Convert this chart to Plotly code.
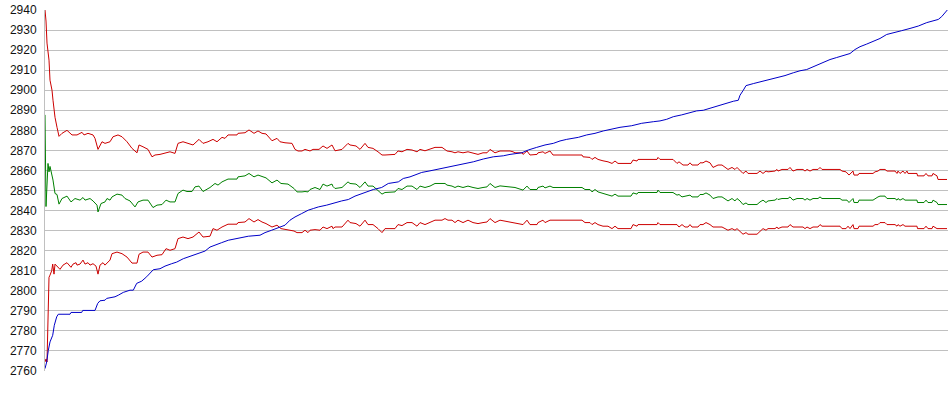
import plotly.graph_objects as go

# sample index (0..903) and values for each series
upper_x = [0,1,2,3,3.5,4,5,7,8,9,10,12,14,17,22,27,32,37,39,43,48,50,53,57,60,65,68,73,77,82,87,92,94,98,103,107,110,115,120,125,130,133,138,143,148,154,158,163,168,172,177,180,183,192,193,200,204,209,213,217,221,227,232,235,240,247,250,253,257,260,265,268,274,278,282,287,288,290,297,303,305,311,315,320,323,328,333,337,340,350,353,357,362,367,372,375,380,385,390,397,402,407,410,413,418,423,428,433,438,442,445,450,455,465,468,470,477,478,482,485,492,493,498,500,505,508,537,538,545,547,550,553,558,563,567,570,573,586,588,592,593,612,613,615,628,632,634,638,643,645,647,653,655,658,661,665,668,673,677,680,683,687,690,692,695,698,701,703,712,715,718,721,723,730,732,733,737,743,745,748,752,758,760,762,765,768,773,775,777,795,797,801,804,808,809,813,814,828,830,833,835,840,842,850,852,853,855,858,860,862,863,872,872.5,879,881,883,887,888,892,893,902]
upper_y = [2940,2934.5,2923.5,2920,2918,2915,2905,2900,2895,2890,2886.5,2881.5,2877,2878.5,2880,2877.7,2877.7,2879,2877.7,2878.5,2877.7,2876,2870.5,2874.3,2873.5,2874.3,2876.8,2877.7,2876.8,2874.3,2871,2868.8,2872.7,2871.8,2870.5,2866.8,2867.7,2868,2868.8,2869.3,2868.5,2873.5,2874.3,2873.5,2872.7,2875.5,2873.5,2874.3,2875.5,2874.3,2876.5,2876,2877.7,2877.7,2878.5,2878.8,2880.2,2878.5,2879.7,2878.5,2878.2,2874.8,2876,2874.3,2873.8,2873.5,2870.5,2869.7,2869.7,2870.5,2869.7,2870.5,2870.5,2872.2,2871,2872.7,2871.8,2869.8,2870.5,2873.5,2872.7,2872.2,2870.5,2873.5,2871.5,2871,2869.3,2867.7,2867.7,2868,2869.7,2869.3,2870.5,2870.2,2869.3,2870.5,2869.8,2870.5,2871.5,2871.5,2869.7,2869.3,2868.8,2869.3,2868.8,2869.3,2868.5,2868,2868.8,2868.8,2870.5,2868.8,2869.7,2869.7,2869.3,2868.8,2868.8,2868,2869.7,2867.7,2868,2868.8,2869.3,2868.5,2869.7,2867.7,2867.7,2866.8,2866.5,2865.5,2866.5,2865.5,2864.8,2864.3,2863.5,2864.7,2863.5,2863.5,2865.2,2864.7,2865.5,2865.5,2866.5,2865.5,2865.5,2863.5,2864.3,2862.7,2862.7,2863.8,2862.7,2862.7,2863.8,2863.8,2864.7,2863.8,2861.5,2862.7,2862.7,2861.5,2860.5,2861.5,2860.5,2861.5,2860.2,2858.5,2859.7,2858.5,2858.5,2859.7,2858.5,2859.7,2859.3,2859.7,2860.5,2859.7,2860.5,2860.5,2861.5,2859.7,2860.5,2860.5,2859.7,2860.5,2859.7,2860.5,2860.5,2861.5,2860.5,2860.5,2859.7,2859.3,2857.7,2859.7,2857.7,2857.7,2858.5,2858.5,2859.3,2859.7,2860.5,2860.5,2859.7,2859.7,2858.5,2859.7,2858.5,2859.7,2858.5,2859.7,2858.5,2858.5,2857.3,2857.3,2858.5,2857.3,2857.3,2858.5,2857.3,2855.5,2855.5]

green_x = [0,1,3,4,5,7,8,10,12,14,17,22,26,30,35,38,40,45,48,52,53,56,60,62,65,67,72,77,80,85,90,93,98,103,108,112,117,121,125,130,133,138,142,147,150,154,158,165,170,173,177,183,192,193,200,204,209,213,217,221,227,232,236,243,249,252,257,260,263,265,270,275,278,282,287,288,290,297,303,305,311,315,320,323,328,333,337,340,350,353,357,362,367,372,375,380,385,390,400,402,407,410,413,418,423,428,433,438,442,445,450,455,470,478,482,485,492,493,498,500,505,508,537,540,545,547,550,553,558,563,567,570,573,586,588,592,593,612,613,615,628,632,634,637,643,645,647,653,655,658,661,665,668,673,677,680,683,687,690,692,695,698,701,703,712,715,718,721,723,730,732,733,737,743,745,748,752,758,760,762,765,768,773,775,777,795,797,802,804,808,809,813,814,828,830,833,835,840,842,850,852,853,855,858,860,862,872,872.5,879,881,883,887,888,892,893,902]
green_y = [2887.7,2842,2863.5,2859.3,2862,2857.7,2855.2,2848.5,2848,2843.2,2846,2847.2,2844.3,2846,2845.2,2846.5,2845.2,2846,2844.8,2842.7,2839.3,2843.5,2844.3,2846,2845.2,2846.8,2848.2,2847.7,2846,2844.8,2841.8,2844.3,2845.2,2845.2,2841.5,2842.7,2843,2845.2,2844.3,2844.3,2848.5,2850.2,2849.5,2849.5,2851.8,2852.2,2849.5,2851.5,2853.5,2852.7,2854.3,2855.7,2855.7,2856.8,2857.3,2858.5,2856.8,2857.7,2856.8,2856.3,2853.8,2855.2,2853.5,2853.2,2851,2849.3,2849.3,2849.5,2849.3,2850.5,2851.5,2850.5,2853.2,2852.2,2853.2,2852,2851,2851.5,2854.3,2853.5,2853.2,2851.5,2854.3,2852.2,2852.2,2850.2,2848.2,2849,2849.3,2851,2850.5,2852.2,2852.2,2850.5,2852.2,2851.5,2852.2,2853.5,2853.5,2852.7,2852.2,2851.5,2852.2,2851.5,2852.2,2851.5,2851,2851.5,2851.8,2853.5,2851.5,2852.3,2851.5,2850.2,2852.2,2850.5,2850.5,2851.5,2852.2,2851.3,2852.2,2851.5,2851.5,2850.5,2850.5,2849.3,2850.5,2849.3,2848.5,2848,2847.2,2848.2,2847.2,2847.2,2848.8,2848.2,2849,2849,2850.2,2849,2849,2847.7,2848,2846.8,2847.2,2847.7,2846.8,2846.8,2848,2848,2848.8,2847.7,2846,2846.8,2846.8,2846,2844.8,2846,2844.8,2846,2844.8,2843,2843.8,2843,2843,2844.3,2845.2,2844,2844.8,2845.2,2846,2845.5,2846,2846,2846.8,2845.2,2846,2846,2845.2,2846,2845.2,2846,2846,2846.8,2846,2846,2845.2,2845.2,2844,2846,2844,2844,2845.2,2845.2,2846,2846.8,2847.2,2847.2,2846,2846,2845.2,2846,2845.2,2846,2845.2,2845.2,2845.2,2844,2844,2845.2,2844,2844,2845.2,2844,2843,2843]

lower_x = [0,1,2,2.7,3,4,5,6.7,7.7,9,10,13,15,18,22,26,28,31,32,35,38,40,43,45,48,51,53,55,58,60,65,67,72,77,82,87,92,94,98,103,107,112,117,121,125,130,133,138,143,148,154,158,165,168,172,177,183,192,193,200,204,209,213,217,221,227,232,236,243,249,252,257,260,263,265,270,275,278,282,287,288,290,297,303,305,311,315,320,323,328,333,337,340,350,353,357,362,367,372,375,380,385,390,397,400,403,407,410,413,418,423,428,433,438,442,445,450,455,470,478,482,485,492,493,498,500,505,537,540,545,547,550,553,558,563,567,570,573,586,588,592,593,612,613,615,632,634,637,640,643,645,647,653,655,658,661,665,668,673,677,680,683,687,690,692,695,698,701,703,712,715,718,721,723,730,732,733,737,743,745,748,752,758,760,762,765,768,773,775,777,795,797,801,803,805,808,809,813,814,828,830,833,835,840,842,850,852,853,855,858,860,862,872,872.5,879,881,883,887,888,892,902]
lower_y = [2764.5,2766,2764.5,2787,2787,2806.7,2807.8,2810,2813.3,2808.3,2813.3,2812,2810.7,2812.8,2814,2811.7,2813.3,2814,2812.8,2813.3,2815.3,2813.3,2814,2812.8,2813.5,2812.3,2808.3,2812.8,2814,2812.8,2815.3,2818.5,2819.3,2818.5,2816.8,2813.8,2813.8,2818.2,2819.3,2819.3,2816.8,2817.7,2818,2821,2820.2,2821,2826,2826.8,2826,2826.8,2829.3,2826.8,2827.2,2831,2830.2,2831.8,2833.2,2833.2,2834,2834.3,2836,2834.3,2835.5,2834.3,2833.5,2831.8,2832.7,2831,2830.5,2829.8,2829,2829,2830.2,2829,2830.2,2830.5,2830.2,2831.8,2831,2832.2,2831,2831.8,2831.8,2835.2,2834,2833.5,2832.2,2835.2,2833,2833,2831,2829,2831,2831,2833,2832.5,2834,2834,2832.2,2834,2833,2834,2835.2,2835.2,2836,2835.2,2835.2,2834,2835.2,2834,2835.2,2834,2833.5,2834,2834.3,2836,2834,2835.2,2834,2833,2835.2,2833,2833,2834,2835.2,2834,2835.2,2835.2,2834,2834,2833,2834,2833,2832.2,2832.2,2831,2832.2,2831,2831,2833,2832.2,2833,2833,2834,2833,2833,2831.8,2833,2831.8,2831.8,2833,2831.8,2831.8,2833,2833,2834,2833,2831.8,2831.8,2831.8,2831,2830.2,2831,2830.2,2831,2829.8,2828.2,2829,2828.2,2828.2,2829.8,2831,2830.2,2831,2831,2831.8,2831,2831.8,2831.8,2833,2831.8,2831.8,2831.8,2831,2831.8,2831,2831.8,2831.8,2833,2832.2,2832.2,2831,2831,2832.2,2831,2833,2831,2831,2832.2,2832.2,2833,2833,2834,2834,2833,2833,2832.2,2833,2832.2,2833,2832.2,2832.2,2832.2,2831,2831,2832.2,2831,2831,2832.2,2831,2831]

blue_x = [0,1.7,3.3,5,7.7,9.3,11.7,13.3,25,26,36.7,37.7,50,52.7,55,60,61.7,70,73.3,78.3,85,88.3,91.7,96.7,101.7,106.7,108.3,115,120,126.7,131.7,138.3,143.3,148.3,154.3,160,165,171.7,176.7,183.3,193.3,203.3,215,220,226.7,233.3,240,245,250,256.7,263.3,268.3,273.3,281.7,286.7,296.7,303.3,310,320,328.3,336.7,343.3,353.3,358.3,365,371.7,376.7,385,393.3,403.3,411.7,420,428.3,438.3,448.3,458.3,465,476.7,483.3,491.7,500,508.3,515,521.7,533.3,541.7,550,558.3,566.7,575,586.7,596.7,608.3,615,621.7,628.3,636.7,645,651.7,658.3,666.7,673.3,681.7,688.3,693.3,695,698.3,701,708.3,716.7,725,733.3,740,748.3,755,761.7,768.3,775,780,785,791.7,800,805,810,815,821.7,828.3,835,841.7,848.3,856.7,865,873.3,881.7,888.3,893.3,896.7,900,902.3]
blue_y = [2761.2,2764.5,2770.3,2774.5,2777.8,2782.8,2787,2788.3,2788.3,2789.2,2789.2,2790.2,2790.2,2793.7,2795,2795.3,2796.2,2797,2797.8,2799.2,2800.3,2800.3,2803.7,2804.8,2807,2810,2810.5,2811,2812.3,2813.5,2814.3,2816,2816.8,2817.7,2818.5,2819.8,2821.8,2823.2,2824,2825.2,2826.3,2827.2,2827.7,2829,2830.2,2831.5,2832.7,2835.2,2836.8,2838.5,2840.2,2841,2841.8,2842.7,2843.5,2844.8,2845.5,2847.2,2849,2850.5,2851.5,2853.5,2854.3,2856,2856.8,2858.2,2859,2859.8,2860.7,2861.5,2862.7,2863.5,2864.3,2865.7,2866.8,2867.3,2868,2868.8,2870.2,2871.5,2872.7,2873.5,2874.7,2875.5,2876.5,2877.7,2878.5,2879.7,2880.7,2881.5,2882.3,2883.5,2884.3,2884.7,2885.5,2886.8,2887.7,2888.8,2889.7,2890,2891.3,2892.3,2893.3,2894.5,2895,2897.5,2900,2902.3,2903.3,2904.3,2905.3,2906.3,2907.3,2908.7,2909.7,2910.3,2911.7,2912.8,2914,2915.3,2916.3,2917.5,2918.3,2920.3,2921.7,2923,2924.2,2925.8,2927.8,2928.8,2929.7,2930.8,2932,2933.7,2934.7,2935.3,2936.7,2938.7,2940]

y_ticks = [2760, 2770, 2780, 2790, 2800, 2810, 2820, 2830, 2840, 2850, 2860, 2870, 2880, 2890, 2900, 2910, 2920, 2930, 2940]

RED = "#cc0000"
GREEN = "#008000"
BLUE = "#0000c8"

fig = go.Figure()
for xs, ys, col in [(upper_x, upper_y, RED), (green_x, green_y, GREEN),
                    (lower_x, lower_y, RED), (blue_x, blue_y, BLUE)]:
    fig.add_trace(go.Scatter(x=xs, y=ys, mode="lines",
                             line=dict(color=col, width=1), hoverinfo="skip"))

fig.update_layout(
    width=950, height=395,
    margin=dict(l=45, r=2, t=10, b=24, autoexpand=False),
    paper_bgcolor="white", plot_bgcolor="white",
    showlegend=False,
    font=dict(family="Liberation Sans, Arial, sans-serif", size=12, color="#111111"),
)
fig.update_xaxes(range=[0, 903], showticklabels=False, showgrid=False,
                 zeroline=False, showline=False, ticks="", automargin=False)
fig.update_yaxes(range=[2760, 2940], tickvals=y_ticks,
                 ticktext=[str(v) for v in y_ticks],
                 showgrid=True, gridcolor="#c0c0c0", gridwidth=1,
                 zeroline=False, showline=True, linecolor="#c0c0c0", linewidth=1,
                 ticks="", ticklabelstandoff=5, automargin=False)

# remove the default page margin so the figure sits at the window origin
fig.write_html("out.html",
               config={"displayModeBar": False, "staticPlot": True},
               post_script="document.body.style.margin='0';document.body.style.overflow='hidden';")
